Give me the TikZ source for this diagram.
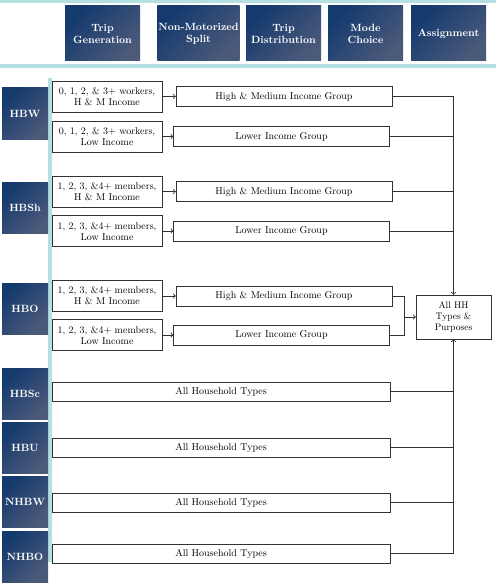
\documentclass[tikz,border=0pt]{standalone}
\usetikzlibrary{positioning}

\definecolor{navydark}{HTML}{143A6E}
\definecolor{navylight}{HTML}{4C5A7A}
\definecolor{bandteal}{HTML}{B5DFE1}
\definecolor{linegray}{HTML}{333333}

\begin{document}
\begin{tikzpicture}[
    x=1pt, y=-1pt,
    font=\fontsize{10}{11}\selectfont,
    darkbox/.style={
        top color=navydark,
        bottom color=navylight,
        shading angle=45,
        text=white,
        font=\fontsize{10.5}{12}\selectfont\bfseries,
        align=center,
        inner sep=1pt
    },
    stage/.style={
        darkbox,
        minimum width=75pt,
        minimum height=55pt
    },
    purpose/.style={
        darkbox,
        minimum width=46pt,
        minimum height=51pt
    },
    segment/.style={
        draw=linegray,
        fill=white,
        minimum width=110pt,
        minimum height=31pt,
        align=center,
        inner sep=1pt
    },
    income/.style={
        draw=linegray,
        fill=white,
        minimum width=216pt,
        minimum height=20pt
    },
    allhh/.style={
        draw=linegray,
        fill=white,
        minimum width=338pt,
        minimum height=19pt
    },
    link/.style={draw=linegray, line width=0.9pt},
    feed/.style={link, ->}
]
    \useasboundingbox (0,0) rectangle (496,583);

    % --- Bands ---
    \fill[bandteal] (0,0) rectangle (496,3);
    \fill[bandteal] (0,64) rectangle (496,68);
    \fill[bandteal] (48,78) rectangle (52,562);

    % --- Model stages ---
    \node[stage] (tg) at (102.5,33.5) {Trip\\Generation};
    \node[stage, minimum width=81pt] (nm) at (198.5,33.5) {Non-Motorized\\Split};
    \node[stage] (td) at (283.5,33.5) {Trip\\Distribution};
    \node[stage] (mc) at (365.5,33.5) {Mode\\Choice};
    \node[stage] (as) at (448.5,33.5) {Assignment};

    % --- Trip purposes ---
    \node[purpose] (hbw)  at (25,113.5) {HBW};
    \node[purpose] (hbsh) at (25,207.5) {HBSh};
    \node[purpose] (hbo)  at (25,308.5) {HBO};
    \node[purpose] (hbsc) at (25,393.5) {HBSc};
    \node[purpose] (hbu)  at (25,447.5) {HBU};
    \node[purpose] (nhbw) at (25,502) {NHBW};
    \node[purpose] (nhbo) at (25,557) {NHBO};

    % --- HBW ---
    \node[segment] (w1) at (107,96.5) {0, 1, 2, \& 3+ workers,\\H \& M Income};
    \node[segment] (w2) at (107,136.5) {0, 1, 2, \& 3+ workers,\\Low Income};
    \node[income] (wh) at (284,96.5) {High \& Medium Income Group};
    \node[income] (wl) at (281.5,136.5) {Lower Income Group};

    % --- HBSh ---
    \node[segment] (s1) at (107,191.5) {1, 2, 3, \&4+ members,\\H \& M Income};
    \node[segment] (s2) at (107,231) {1, 2, 3, \&4+ members,\\Low Income};
    \node[income] (sh) at (284,191.5) {High \& Medium Income Group};
    \node[income] (sl) at (281.5,231) {Lower Income Group};

    % --- HBO ---
    \node[segment] (o1) at (107,296) {1, 2, 3, \&4+ members,\\H \& M Income};
    \node[segment] (o2) at (107,335) {1, 2, 3, \&4+ members,\\Low Income};
    \node[income] (oh) at (284,296) {High \& Medium Income Group};
    \node[income] (ol) at (281.5,335) {Lower Income Group};

    % --- Single segment purposes ---
    \node[allhh] (sc) at (221,391.5) {All Household Types};
    \node[allhh] (u)  at (221,447.5) {All Household Types};
    \node[allhh] (nw) at (221,502.5) {All Household Types};
    \node[allhh] (no) at (221,553.5) {All Household Types};

    % --- Combined ---
    \node[draw=linegray, fill=white, minimum width=75pt, minimum height=44pt,
          align=center, inner sep=1pt, font=\fontsize{9.5}{11}\selectfont]
        (all) at (453.5,317) {All HH\\Types \&\\Purposes};
    \coordinate (ojoin) at (404,317);

    % --- Connectors ---
    \foreach \a/\b in {w1/wh, w2/wl, s1/sh, s2/sl, o1/oh, o2/ol}
        \draw[feed] (\a) -- (\b);

    \draw[feed] (wh.east) -| (all.north);
    \foreach \n in {wl, sh, sl}
        \draw[link] (\n.east) -- (\n.east -| all.north);

    \draw[link] (oh.east) -| (ojoin);
    \draw[link] (ol.east) -| (ojoin);
    \draw[feed] (ojoin) -- (all.west);

    \draw[feed] (no.east) -| (all.south);
    \foreach \n in {sc, u, nw}
        \draw[link] (\n.east) -- (\n.east -| all.south);
\end{tikzpicture}
\end{document}
